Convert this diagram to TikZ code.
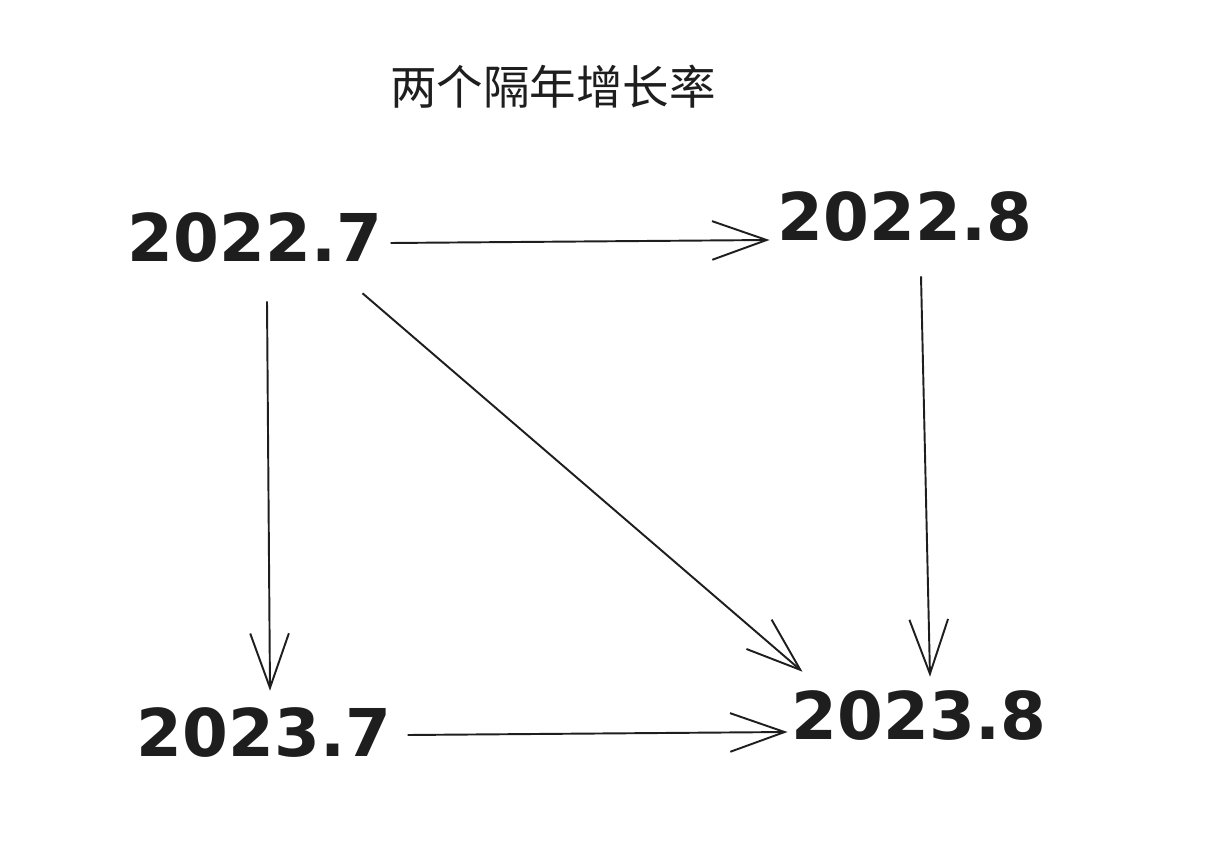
\documentclass[tikz,border=0pt]{standalone}
\usepackage{fontspec}
\usetikzlibrary{arrows.meta}
\newfontfamily\cjk{Noto Sans CJK SC}
\newfontfamily\digits{DejaVu Sans}
\definecolor{ink}{HTML}{1E1E1E}
\tikzset{
  month/.style={inner sep=0pt, text=ink, font=\digits\bfseries\fontsize{37.5}{40}\selectfont},
  arr/.style={draw=ink, line width=1.1pt, -{Straight Barb[length=31pt,width=22pt,line width=1.1pt]}}
}
\begin{document}
\begin{tikzpicture}
\useasboundingbox (0,0) rectangle (24.52,17.08);
\node [text=ink, font=\cjk\fontsize{26.5}{30}\selectfont] (title) at (11.06,15.34) {两个隔年增长率};
\node [month] (m227) at (5.10,12.32) {2022.7};
\node [month] (m228) at (18.10,12.74) {2022.8};
\node [month] (m237) at (5.28,2.42) {2023.7};
\node [month] (m238) at (18.38,2.76) {2023.8};
\draw [arr] ([shift={(0.16,-0.1)}]m227.east) -- ([shift={(-0.16,-0.46)}]m228.west);
\draw [arr] ([shift={(0.24,-0.76)}]m227.south) -- ([shift={(0.12,0.34)}]m237.north);
\draw [arr] ([shift={(-0.4,-0.6)}]m227.south east) -- ([shift={(0.22,0.38)}]m238.north west);
\draw [arr] ([shift={(0.32,-0.68)}]m228.south) -- ([shift={(0.22,0.28)}]m238.north);
\draw [arr] ([shift={(0.32,-0.04)}]m237.east) -- ([shift={(-0.08,-0.32)}]m238.west);
\end{tikzpicture}
\end{document}
